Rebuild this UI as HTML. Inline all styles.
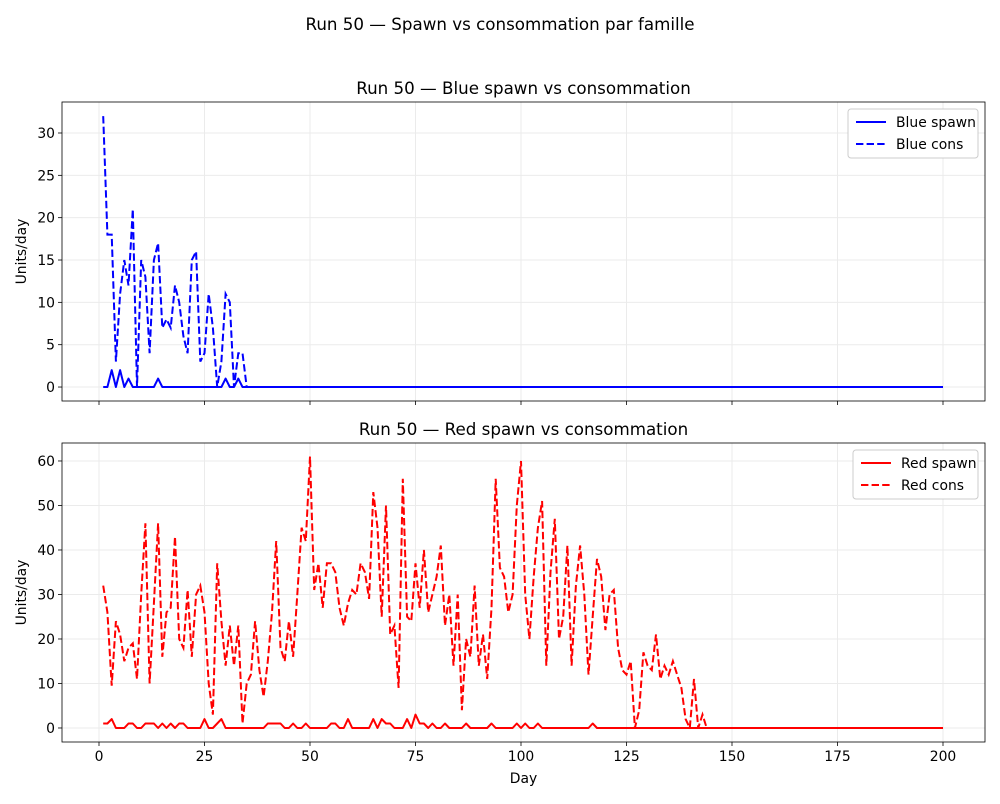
<!DOCTYPE html>
<html><head><meta charset="utf-8"><style>
body{margin:0;background:#fff;font-family:"DejaVu Sans","Liberation Sans",sans-serif}
svg text{font-family:"DejaVu Sans","Liberation Sans",sans-serif}
</style></head><body>
<svg id="c" width="1000" height="800" xmlns="http://www.w3.org/2000/svg"></svg>
<script>
const days = Array.from({length:200},(_,i)=>i+1);
const blueCons = [32,18,18,3,11,15,12,21,0,15,13,4,15,17,7,8,7,12,10,6,4,15,16,3,4,11,7,0,3,11,10,0,4,4,0];
const blueSpawn = [0,0,2,0,2,0,1,0,0,0,0,0,0,1,0,0,0,0,0,0,0,0,0,0,0,0,0,0,0,1,0,0,1,0,0];
const redCons = [32,26,9.5,24,21,15,18,19,11,30,46,10,28,46,16,26,27,43,20,18,31,16,30,32,26,10,3,37,24,14,23,14,23,1,10,12,24,13,7,15,26,42,18,15,24,16,30,45,42,61,31,37,27,37,37,35,27,23,28,31,30,37,35,29,53,45,25,50,21,23,9,56,25,24,37,27,40,26,30,34,41,23,30,14,30,4,20,16,32,14,21,11,27,56,36,34,26,30,50,60,30,20,34,45,51,14,35,47,20,25,41,14,32,41,30,12,25,38,34,22,30,31,18,13,12,15,0,4,17,14,13,21,11,14,12,15,12,9,2,0,11,0,3,0];
const redSpawn = [1,1,2,0,0,0,1,1,0,0,1,1,1,0,1,0,1,0,1,1,0,0,0,0,2,0,0,1,2,0,0,0,0,0,0,0,0,0,0,1,1,1,1,0,0,1,0,0,1,0,0,0,0,0,1,1,0,0,2,0,0,0,0,0,2,0,2,1,1,0,0,0,2,0,3,1,1,0,1,0,0,1,0,0,0,0,1,0,0,0,0,0,1,0,0,0,0,0,1,0,1,0,0,1,0,0,0,0,0,0,0,0,0,0,0,0,1];
const xTicks = [0,25,50,75,100,125,150,175,200];
const blueYTicks = [0,5,10,15,20,25,30];
const redYTicks = [0,10,20,30,40,50,60];
const full = a => days.map((d,i)=> i<a.length ? a[i] : 0);

const svg = document.getElementById('c');
const NS='http://www.w3.org/2000/svg';
function mk(tag, attrs, parent){const e=document.createElementNS(NS,tag);for(const k in attrs)e.setAttribute(k,attrs[k]);(parent||svg).appendChild(e);return e;}
const X0=62,X1=985;
const xs = d => 99 + (d-0)*(943-99)/200;

function panel(top,bottom,ymin,ymax,yTicks,spawn,cons,color,title,name,showX){
  const ys = v => bottom - (v-ymin)/(ymax-ymin)*(bottom-top);
  const g = mk('g',{});
  
  
  xTicks.forEach(t=>{
    const l=mk('line',{x1:xs(t),x2:xs(t),y1:top,y2:bottom,stroke:'#ebebeb','stroke-width':1},g);
    
    
    const tk=mk('line',{x1:xs(t),x2:xs(t),y1:bottom,y2:bottom+4,stroke:'#000','stroke-width':0.8},g);
    
    
    if(showX){const tx=mk('text',{x:xs(t),y:bottom+19,'text-anchor':'middle','font-size':13.9,fill:'#000'},g);tx.textContent=t;
      
      }
  });
  yTicks.forEach(t=>{
    const l=mk('line',{x1:X0,x2:X1,y1:ys(t),y2:ys(t),stroke:'#ebebeb','stroke-width':1},g);
    
    
    const tk=mk('line',{x1:X0-4,x2:X0,y1:ys(t),y2:ys(t),stroke:'#000','stroke-width':0.8},g);
    
    
    const tx=mk('text',{x:X0-7,y:ys(t)+5,'text-anchor':'end','font-size':13.9,fill:'#000'},g);tx.textContent=t;
    
    
  });
  const pts = arr => full(arr).map((v,i)=>xs(days[i]).toFixed(1)+','+ys(v).toFixed(1)).join(' ');
  const ls=mk('polyline',{points:pts(spawn),fill:'none',stroke:color,'stroke-width':2,'stroke-linejoin':'round'},g);
  
  
  const lc=mk('polyline',{points:pts(cons),fill:'none',stroke:color,'stroke-width':2,'stroke-dasharray':'7.4,3.2'},g);
  
  
  const fr=mk('rect',{x:X0,y:top,width:X1-X0,height:bottom-top,fill:'none',stroke:'#000','stroke-width':0.8},g);
  
  
  const tt=mk('text',{x:(X0+X1)/2,y:top-8,'text-anchor':'middle','font-size':16.7,fill:'#000'},g);tt.textContent=title;
  
  
  const yl=mk('text',{x:0,y:0,'text-anchor':'middle','font-size':13.9,fill:'#000',transform:`translate(26,${(top+bottom)/2}) rotate(-90)`},g);yl.textContent='Units/day';
  
  
  const lg=mk('g',{},g);
  
  
  const lw = name==='blue'?130:125;
  mk('rect',{x:X1-7-lw,y:top+7,width:lw,height:49,rx:3,fill:'#fff',stroke:'#ccc','stroke-width':1},lg);
  const lx=X1-7-lw+8;
  mk('line',{x1:lx,x2:lx+30,y1:top+20,y2:top+20,stroke:color,'stroke-width':2},lg);
  mk('line',{x1:lx,x2:lx+30,y1:top+42,y2:top+42,stroke:color,'stroke-width':2,'stroke-dasharray':'7.4,3.2'},lg);
  const cap = name==='blue'?'Blue':'Red';
  const e1=mk('text',{x:lx+40,y:top+25,'font-size':13.9,fill:'#000'},lg);e1.textContent=cap+' spawn';
  
  
  const e2=mk('text',{x:lx+40,y:top+47,'font-size':13.9,fill:'#000'},lg);e2.textContent=cap+' cons';
  
  
}
const st=mk('text',{x:500,y:30,'text-anchor':'middle','font-size':16.7,fill:'#000'});st.textContent='Run 50 — Spawn vs consommation par famille';


panel(102,401,-1.65,33.66,blueYTicks,blueSpawn,blueCons,'#0000ff','Run 50 — Blue spawn vs consommation','blue',false);
panel(443,742,-3.15,64.04,redYTicks,redSpawn,redCons,'#ff0000','Run 50 — Red spawn vs consommation','red',true);
const xl=mk('text',{x:523.5,y:783,'text-anchor':'middle','font-size':13.9,fill:'#000'});xl.textContent='Day';


</script>
</body></html>
